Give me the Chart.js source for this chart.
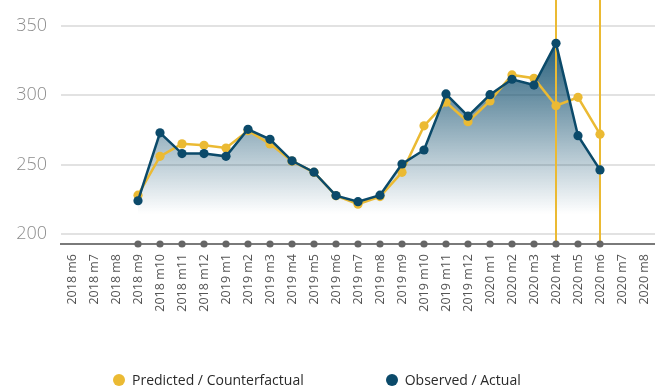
<!DOCTYPE html>
<html>
<head>
<meta charset="utf-8">
<script src="https://cdn.jsdelivr.net/npm/chart.js@4/dist/chart.umd.min.js"></script>
<style>
  html, body { margin: 0; padding: 0; background: #fff; }
  #wrap { position: relative; width: 655px; height: 391px; }
  #legend { position: absolute; left: 113px; top: 370px; display: flex; align-items: center;
            font-family: "Open Sans", sans-serif; font-size: 14px; color: #2a2a2a; }
  .item { display: flex; align-items: center; }
  .item + .item { margin-left: 82px; }
  .dot { width: 12px; height: 12px; border-radius: 50%; margin-right: 7px; }
</style>
</head>
<body>
<div id="wrap">
  <canvas id="c" width="655" height="391"></canvas>
  <div id="legend"></div>
</div>
<script>
const months = [
  '2018 m6','2018 m7','2018 m8','2018 m9','2018 m10','2018 m11','2018 m12',
  '2019 m1','2019 m2','2019 m3','2019 m4','2019 m5','2019 m6','2019 m7','2019 m8',
  '2019 m9','2019 m10','2019 m11','2019 m12',
  '2020 m1','2020 m2','2020 m3','2020 m4','2020 m5','2020 m6','2020 m7','2020 m8'
];
const predicted = [null, null, null, 228, 256, 265, 264, 262, 274.5, 265, 252.5, 244.5, 227.6, 221.5, 227,
  244.5, 278, 295, 281, 296, 314.7, 312.3, 292.5, 298.6, 272, null, null];
const observed = [null, null, null, 224, 273, 258, 258, 256, 275.5, 268.3, 252.8, 244.6, 227.7, 223.3, 228,
  250.5, 260.6, 301, 285, 300.5, 311.6, 307.4, 337.5, 270.9, 246.2, null, null];
const yTicks = [200, 250, 300, 350];
const markerMonths = ['2020 m4', '2020 m6'];

const BLUE = '#0b4a6a';
const GOLD = '#ebba33';

const seriesNames = ['Predicted / Counterfactual', 'Observed / Actual'];

function areaGradient(ctx) {
  const chart = ctx.chart;
  const g = chart.ctx.createLinearGradient(0, 20, 0, 214);
  g.addColorStop(0, 'rgba(11,74,106,1)');
  g.addColorStop(0.45, 'rgba(11,74,106,0.56)');
  g.addColorStop(1, 'rgba(11,74,106,0)');
  return g;
}

const guides = {
  id: 'guides',
  beforeDatasetsDraw(chart) {
    const { ctx, chartArea, scales } = chart;
    ctx.save();
    ctx.strokeStyle = GOLD;
    ctx.lineWidth = 2;
    markerMonths.forEach(m => {
      const x = Math.round(scales.x.getPixelForValue(months.indexOf(m)));
      ctx.beginPath();
      ctx.moveTo(x, chartArea.top);
      ctx.lineTo(x, chartArea.bottom);
      ctx.stroke();
    });
    ctx.restore();
  },
  afterDatasetsDraw(chart) {
    const { ctx, chartArea, scales } = chart;
    ctx.save();
    ctx.fillStyle = '#666';
    months.forEach((m, i) => {
      if (observed[i] === null) return;
      const x = scales.x.getPixelForValue(i);
      ctx.beginPath();
      ctx.arc(x, chartArea.bottom, 3.6, 0, Math.PI * 2);
      ctx.fill();
    });
    ctx.restore();
  }
};

const chart = new Chart(document.getElementById('c'), {
  type: 'line',
  data: {
    labels: months,
    datasets: [
      {
        label: seriesNames[0],
        data: predicted,
        borderColor: GOLD,
        backgroundColor: GOLD,
        borderWidth: 2.5,
        pointRadius: 4.6,
        pointBackgroundColor: GOLD,
        pointBorderWidth: 0,
        fill: false,
        tension: 0,
        order: 1
      },
      {
        label: seriesNames[1],
        data: observed,
        borderColor: BLUE,
        backgroundColor: areaGradient,
        borderWidth: 2.5,
        pointRadius: 4.6,
        pointBackgroundColor: BLUE,
        pointBorderWidth: 0,
        fill: 'start',
        tension: 0,
        order: 0
      }
    ]
  },
  options: {
    responsive: false,
    animation: false,
    layout: { autoPadding: false, padding: 0 },
    plugins: {
      legend: { display: false },
      tooltip: { enabled: false },
      filler: { drawTime: 'beforeDatasetsDraw' }
    },
    scales: {
      x: {
        offset: true,
        grid: { display: false, drawTicks: false },
        border: { display: true, color: '#7a7a7a', width: 2 },
        ticks: {
          autoSkip: false,
          minRotation: 90,
          maxRotation: 90,
          padding: 10,
          color: '#555',
          font: { family: 'Open Sans', size: 12.5 }
        },
        afterFit(s) {
          s.height = 147;
          s.paddingLeft = 0; s.paddingRight = 0;
        }
      },
      y: {
        min: 192.8,
        max: 368.75,
        afterBuildTicks(s) { s.ticks = yTicks.map(v => ({ value: v })); },
        grid: { color: '#e2e2e2', lineWidth: 2, drawTicks: false },
        border: { display: false },
        ticks: {
          padding: 14,
          color: '#8c8c8c',
          font: { family: 'Open Sans', size: 18, weight: 300 }
        },
        afterFit(s) {
          s.width = 61;
          s.paddingTop = 0; s.paddingBottom = 0;
        }
      }
    }
  },
  plugins: [guides]
});

// Legend built from the chart's own datasets
const legend = document.getElementById('legend');
chart.data.datasets.forEach(ds => {
  const item = document.createElement('div');
  item.className = 'item';
  const dot = document.createElement('span');
  dot.className = 'dot';
  dot.style.background = ds.borderColor;
  const txt = document.createElement('span');
  txt.textContent = ds.label;
  item.appendChild(dot);
  item.appendChild(txt);
  legend.appendChild(item);
});
</script>
</body>
</html>
